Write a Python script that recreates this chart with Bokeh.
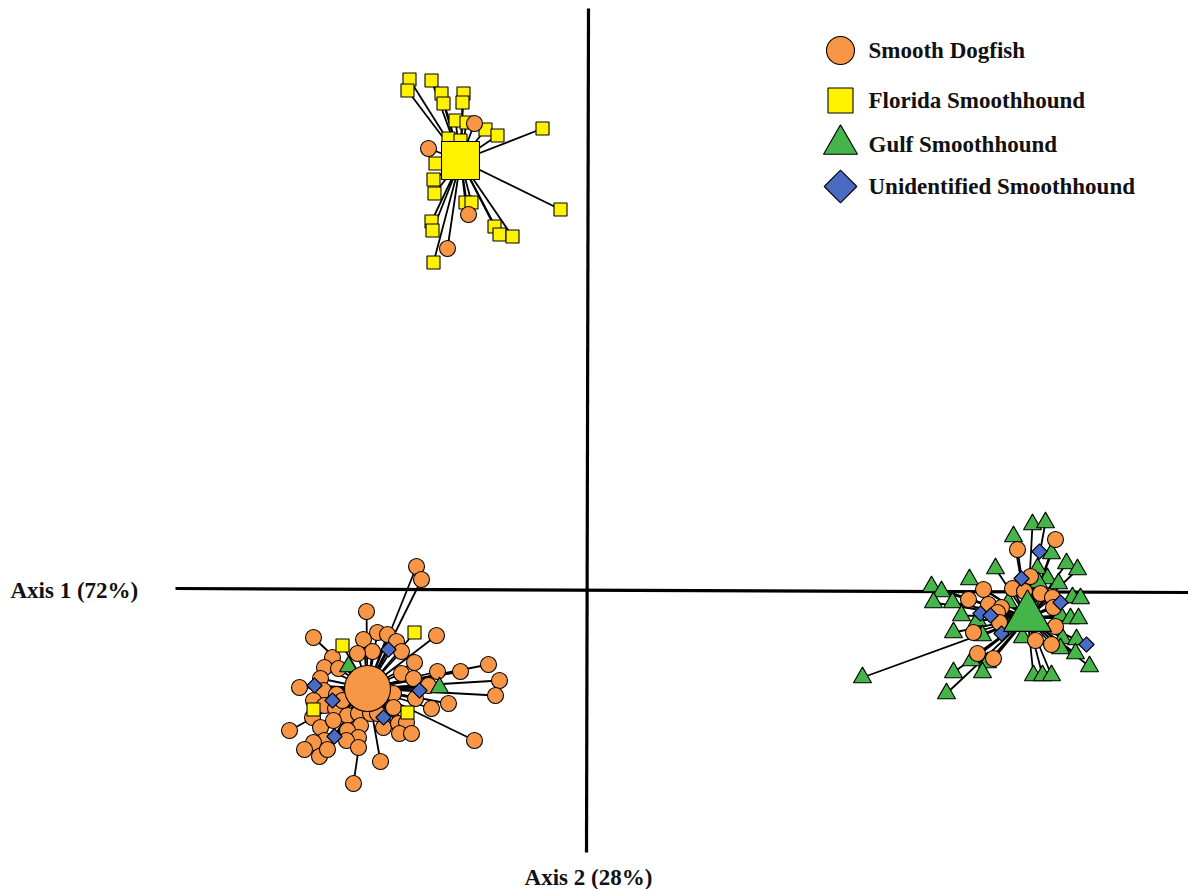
from bokeh.plotting import figure
from bokeh.models import Range1d
from bokeh.embed import file_html
from bokeh.resources import INLINE
from bokeh.core.properties import value

# PCoA scores (arbitrary units x100): Axis 1 (x), Axis 2 (y)
species = ["Smooth Dogfish", "Florida Smoothhound", "Gulf Smoothhound", "Unidentified Smoothhound"]
colors = {"Smooth Dogfish": "#F79646", "Florida Smoothhound": "#FFF200",
          "Gulf Smoothhound": "#45B549", "Unidentified Smoothhound": "#4A6BC4"}
markers = {"Smooth Dogfish": "circle", "Florida Smoothhound": "square",
           "Gulf Smoothhound": "triangle", "Unidentified Smoothhound": "square"}

# ---- Florida Smoothhound cluster ----
fl_centroid = (-128, 430)
fl_sq_x = [-179, -181, -157, -147, -125, -145, -126, -133, -122, -103, -91, -46, -140, -128,
           -153, -155, -154, -123, -117, -28, -157, -156, -94, -89, -76, -155]
fl_sq_y = [511, 500, 510, 497, 497, 487, 488, 470, 468, 461, 455, 462, 452, 450,
           427, 411, 397, 388, 388, 381, 369, 360, 364, 356, 354, 328]
fl_ci_x = [-114, -160, -120, -141]
fl_ci_y = [467, 442, 376, 342]

# ---- Smooth Dogfish cluster ----
sd_centroid = (-221, -98)
sd_ci_x = [-172, -167, -222, -275, -211, -201, -192, -152, -225, -216, -231, -187, -256, -264,
           -250, -174, -187, -151, -128, -100, -175, -268, -289, -265, -252, -89, -160, -93,
           -275, -264, -253, -241, -230, -195, -195, -173, -140, -157, -276, -299, -268, -255,
           -228, -205, -190, -182, -189, -177, -241, -230, -264, -275, -284, -269, -261, -242,
           -230, -208, -114, -235, -246, -218, -211]
sd_ci_y = [24, 11, -21, -47, -42, -44, -51, -45, -49, -61, -63, -61, -67, -77,
           -78, -72, -83, -81, -81, -74, -88, -88, -97, -100, -104, -90, -95, -105,
           -110, -115, -118, -125, -123, -103, -117, -108, -113, -118, -127, -140, -137, -130,
           -135, -137, -133, -132, -143, -143, -140, -147, -150, -152, -159, -166, -159, -150,
           -157, -171, -150, -193, -110, -123, -123]
sd_sq_x = [-246, -174, -275, -181]
sd_sq_y = [-55, -42, -119, -122]
sd_tr_x = [-240, -149]
sd_tr_y = [-76, -97]
sd_di_x = [-200, -274, -169, -256, -205, -254]
sd_di_y = [-59, -95, -100, -110, -127, -146]

# ---- Gulf Smoothhound cluster ----
gs_centroid = (439, -27)
gs_tr_x = [444, 457, 425, 463, 407, 478, 489, 449, 459, 381, 343, 353, 470, 450, 345, 364,
           484, 492, 373, 389, 472, 482, 490, 365, 394, 474, 488, 472, 487, 383, 399, 501,
           365, 394, 445, 454, 463, 274, 358, 434, 415, 420]
gs_tr_y = [66, 68, 54, 37, 22, 27, 21, 22, 12, 11, 4, -1, 7, 8, -12, -12,
           -7, -8, -25, -30, -25, -28, -28, -42, -45, -48, -49, -58, -63, -70, -72, -76,
           -82, -82, -85, -85, -85, -87, -103, -47, -32, -12]
gs_ci_x = [467, 429, 395, 424, 436, 442, 452, 464, 380, 400, 413, 409, 411, 465, 467, 385,
           447, 463, 389, 405]
gs_ci_y = [51, 41, 1, 2, -1, 14, -3, -7, -9, -14, -17, -22, -32, -17, -36, -42,
           -50, -54, -63, -68]
gs_di_x = [451, 433, 472, 392, 402, 413, 498]
gs_di_y = [39, 12, -12, -23, -25, -43, -54]

p = figure(width=1188, height=889, x_range=Range1d(-588, 600), y_range=Range1d(-299, 590),
           output_backend="svg", toolbar_location=None, min_border=0,
           x_axis_location=None, y_axis_location=None)
p.grid.visible = False
p.outline_line_color = None
p.background_fill_color = "white"

# axes lines
p.segment(x0=[-413, 0], y0=[2, 582], x1=[600, -2], y1=[-2, -262], line_color="black", line_width=3.2)

def spokes(c, xs, ys):
    p.segment(x0=[c[0]] * len(xs), y0=[c[1]] * len(ys), x1=xs, y1=ys,
              line_color="black", line_width=1.8)

# spokes
for c, groups in [
    (fl_centroid, [(fl_sq_x, fl_sq_y), (fl_ci_x, fl_ci_y)]),
    (sd_centroid, [(sd_ci_x, sd_ci_y), (sd_sq_x, sd_sq_y), (sd_tr_x, sd_tr_y), (sd_di_x, sd_di_y)]),
    (gs_centroid, [(gs_tr_x, gs_tr_y), (gs_ci_x, gs_ci_y), (gs_di_x, gs_di_y)]),
]:
    for xs, ys in groups:
        spokes(c, xs, ys)

def pts(xs, ys, sp, size):
    kw = dict(fill_color=colors[sp], line_color="black", line_width=1.1)
    if sp == "Unidentified Smoothhound":
        p.scatter(xs, ys, marker="square", size=size * 0.72, angle=0.785398, **kw)
    else:
        p.scatter(xs, ys, marker=markers[sp], size=size, **kw)

# points
pts(fl_sq_x, fl_sq_y, "Florida Smoothhound", 13)
pts(fl_ci_x, fl_ci_y, "Smooth Dogfish", 16)
pts(sd_ci_x, sd_ci_y, "Smooth Dogfish", 16)
pts(sd_sq_x, sd_sq_y, "Florida Smoothhound", 13)
pts(sd_tr_x, sd_tr_y, "Gulf Smoothhound", 18)
pts(sd_di_x, sd_di_y, "Unidentified Smoothhound", 15)
pts(gs_tr_x, gs_tr_y, "Gulf Smoothhound", 18)
pts(gs_ci_x, gs_ci_y, "Smooth Dogfish", 16)
pts(gs_di_x, gs_di_y, "Unidentified Smoothhound", 15)

# centroids
pts([fl_centroid[0]], [fl_centroid[1]], "Florida Smoothhound", 38)
pts([sd_centroid[0]], [sd_centroid[1]], "Smooth Dogfish", 46)
pts([gs_centroid[0]], [gs_centroid[1]], "Gulf Smoothhound", 48)

# legend
leg_x = 252
leg_y = [540, 490, 446, 404]
leg_sizes = [28, 25, 34, 32]
for sp, ly, sz in zip(species, leg_y, leg_sizes):
    pts([leg_x], [ly], sp, sz)
p.text(x=[leg_x + 28] * 4, y=leg_y, text=species, text_font=value("Liberation Serif"),
       text_font_style="bold", text_font_size="23px", text_baseline="middle", text_align="left",
       text_color="#111111")

# axis labels
p.text(x=[-578], y=[0], text=["Axis 1 (72%)"], text_font=value("Liberation Serif"),
       text_font_style="bold", text_font_size="23px", text_baseline="middle", text_align="left",
       text_color="#111111")
p.text(x=[0], y=[-287], text=["Axis 2 (28%)"], text_font=value("Liberation Serif"),
       text_font_style="bold", text_font_size="23px", text_baseline="middle", text_align="center",
       text_color="#111111")

open("out.html", "w").write(file_html(p, INLINE))
